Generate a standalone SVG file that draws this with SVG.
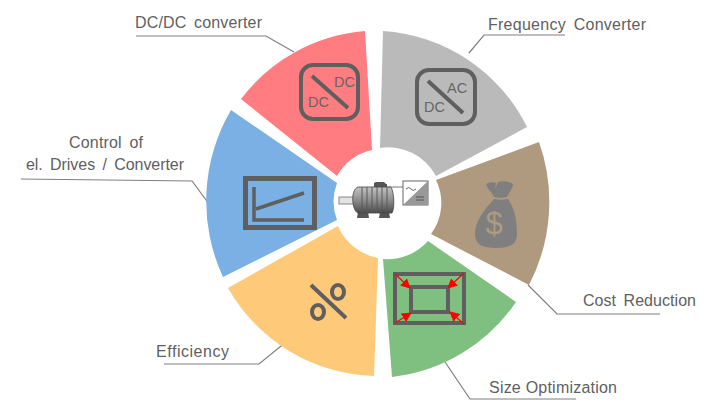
<svg xmlns="http://www.w3.org/2000/svg" width="718" height="416" viewBox="0 0 718 416">
<style>
.lbl{font-family:"Liberation Sans",Arial,sans-serif;font-size:16px;fill:#5f5f5f;word-spacing:3px}
.ico{font-family:"Liberation Sans",Arial,sans-serif;font-size:14.5px;fill:#666}
.lead{fill:none;stroke:#7f7f7f;stroke-width:1.2}
.ln{fill:none;stroke:#5f5f5f}
.arr{stroke:#f00;stroke-width:1.2}
</style>
<defs>
<marker id="ah" viewBox="0 0 10 10" refX="9" refY="5" markerWidth="10" markerHeight="10" markerUnits="userSpaceOnUse" orient="auto"><path d="M0,0L10,5L0,10Z" fill="#f00"/></marker>
<linearGradient id="mg" x1="0" y1="0" x2="0" y2="1"><stop offset="0" stop-color="#c4c4c4"/><stop offset=".5" stop-color="#8e8e8e"/><stop offset="1" stop-color="#4a4a4a"/></linearGradient>
</defs>
<rect width="718" height="416" fill="#fff"/>
<g id="connectors">
<path class="lead" d="M136,36H266L294,52"/>
<path class="lead" d="M565,35H484L469,53"/>
<path class="lead" d="M21,179L192,181L212,208"/>
<path class="lead" d="M164,364H259L286,342"/>
<path class="lead" d="M576,399H470L445,362"/>
<path class="lead" d="M660,314H557L528,285"/>
</g>
<g id="dcdc">
<path fill="#FF7C80" d="M241,99A173,173 0 0 1 365,31L372,150A54,54 0 0 0 337,176Z"/>
<rect class="ln" x="301" y="65" width="57" height="54" rx="12" stroke-width="4"/>
<path class="ln" stroke-width="4" d="M312,76L348,108"/>
<text class="ico" x="334" y="87">DC</text><text class="ico" x="308" y="107">DC</text>
<text class="lbl" x="135" y="28" textLength="127">DC/DC converter</text>
</g>
<g id="freq">
<path fill="#BABABA" d="M383,31A173,173 0 0 1 527,127L436,176A54,54 0 0 0 380,148Z"/>
<rect class="ln" x="417" y="70" width="58" height="54" rx="12" stroke-width="4"/>
<path class="ln" stroke-width="4" d="M428,81L463,113"/>
<text class="ico" x="447" y="93">AC</text><text class="ico" x="424" y="112">DC</text>
<text class="lbl" x="488" y="30" textLength="158">Frequency Converter</text>
</g>
<g id="cost">
<path fill="#B09A7F" d="M539,142A180,180 0 0 1 529,285L431,234A52,52 0 0 0 436,180Z"/>
<path fill="#7f7f7f" d="M486,184C489,182 493,182 496,183L495,189L498,182C504,180 510,182 513,184C513,189 509,192 507,197C503,198 497,198 494,197C492,192 487,189 486,184Z"/>
<path fill="#7f7f7f" d="M494,199C499,200 503,200 508,199C514,207 517,220 517,234C517,245 509,248 496,248C483,248 475,245 475,234C475,220 487,207 494,199Z"/>
<text x="494" y="234" text-anchor="middle" font-family="Liberation Sans,Arial,sans-serif" font-size="31" fill="#B09A7F">$</text>
<text class="lbl" x="583" y="306" textLength="113">Cost Reduction</text>
</g>
<g id="size">
<path fill="#7FBF7F" d="M392,377A173,173 0 0 0 516,302L428,241A54,54 0 0 1 383,259Z"/>
<rect class="ln" x="395" y="274" width="69" height="49" stroke-width="4"/>
<rect class="ln" x="411" y="287" width="37" height="25" stroke-width="4"/>
<path class="arr" marker-end="url(#ah)" d="M395,274L410,288"/>
<path class="arr" marker-end="url(#ah)" d="M464,273L448,288"/>
<path class="arr" marker-end="url(#ah)" d="M395,323L411,313"/>
<path class="arr" marker-end="url(#ah)" d="M464,324L450,312"/>
<text class="lbl" x="489" y="393" textLength="128" style="word-spacing:0">Size Optimization</text>
</g>
<g id="eff">
<path fill="#FFC97A" d="M228,288A173,173 0 0 0 374,376L378,258A54,54 0 0 1 338,226Z"/>
<path class="ln" stroke-width="4" d="M311,285L346,318"/>
<ellipse class="ln" cx="338" cy="292" rx="6" ry="7" stroke-width="4"/>
<ellipse class="ln" cx="318" cy="312" rx="6" ry="7" stroke-width="4"/>
<text class="lbl" x="156" y="357" textLength="73">Efficiency</text>
</g>
<g id="ctrl">
<path fill="#7BB0E5" d="M223,277A180,180 0 0 1 231,110L337,183A52,52 0 0 0 337,220Z"/>
<rect class="ln" x="245.500" y="178.500" width="69" height="49" stroke-width="5"/>
<path class="ln" stroke-width="3.500" d="M254,187V220H304M256,209L304,193"/>
<text class="lbl" x="69" y="148" textLength="74">Control of</text>
<text class="lbl" x="26" y="170" textLength="158">el. Drives / Converter</text>
</g>
<g id="motor">
<path d="M374,187V183L376,182H384L386,184H387V190H374Z" fill="#555"/>
<path d="M358,212h10l1,6h-12zM380,212h9l1,6h-11z" fill="#555"/>
<rect x="339" y="197" width="15" height="7" fill="#e2e2e2" stroke="#888"/>
<path d="M358,187H391C394,192 395,208 392,213H358C352,211 350,190 358,187Z" fill="url(#mg)" stroke="#444" stroke-width=".8"/>
<path d="M362,187V213M367,187V213M372,187V213M377,187V213M382,187V213M387,187V213" stroke="#5a5a5a" stroke-width="1"/>
<path d="M387,187H403" stroke="#777" stroke-width="1"/>
<rect x="403" y="181" width="25" height="24" fill="#fff" stroke="#666"/>
<path d="M403,205L428,181V205Z" fill="#999"/>
<path d="M406,189Q409,186 411,189T416,189" fill="none" stroke="#666"/>
<path d="M416,197H424M416,200H424" stroke="#555"/>
</g>
</svg>
